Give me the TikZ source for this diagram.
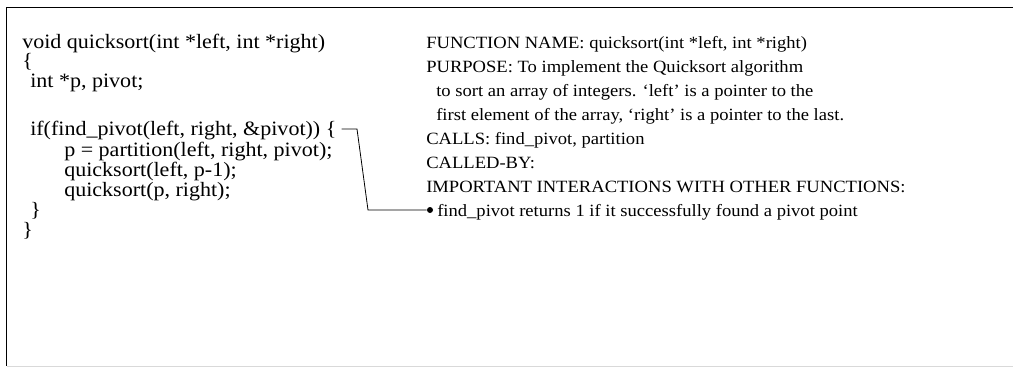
\documentclass[tikz,border=0pt]{standalone}
\usepackage{fontspec}
\setmainfont[FakeStretch=1.08]{Liberation Serif}
\usetikzlibrary{calc}
\tikzset{
  codeline/.style={anchor=base west, inner sep=0pt, font=\fontsize{15.3}{18}\selectfont},
  docline/.style={anchor=base west, inner sep=0pt, font=\fontsize{12.9}{16}\selectfont},
  frame/.style={line width=1.1pt, black},
  conn/.style={line width=0.6pt, black},
  bulletdot/.style={circle, fill=black, inner sep=0pt, minimum size=4.5}
}
\begin{document}
\begin{tikzpicture}[x=0.75pt,y=-0.75pt]
\useasboundingbox (0,0) rectangle (1013,368);
% panel border: top and left dark, bottom light
\draw[frame] (1013,7.5) -- (6.5,7.5) -- (6.5,366);
\draw[line width=0.8pt, black!15] (6.5,366.5) -- (1013,366.5);

% source code
\node[codeline] (c1) at (22,48)  {void quicksort(int *left, int *right)};
\node[codeline] (c2) at (22,67)  {\{};
\node[codeline] (c3) at (30,87)  {int *p, pivot;};
\node[codeline] (c4) at (30,135) {if(find\_pivot(left, right, \&pivot)) \{};
\node[codeline] (c5) at (64,156) {p = partition(left, right, pivot);};
\node[codeline] (c6) at (64,176) {quicksort(left, p-1);};
\node[codeline] (c7) at (64,196) {quicksort(p, right);};
\node[codeline] (c8) at (30,216) {\}};
\node[codeline] (c9) at (22,236) {\}};

% header comment block
\node[docline] (r1) at (426,48)  {FUNCTION NAME: quicksort(int *left, int *right)};
\node[docline] (r2) at (426,72)  {PURPOSE: To implement the Quicksort algorithm};
\node[docline] (r3) at (436,96)  {to sort an array of integers. ‘left’ is a pointer to the};
\node[docline] (r4) at (436,120) {first element of the array, ‘right’ is a pointer to the last.};
\node[docline] (r5) at (426,144) {CALLS: find\_pivot, partition};
\node[docline] (r6) at (426,168) {CALLED-BY:};
\node[docline] (r7) at (426,192) {IMPORTANT INTERACTIONS WITH OTHER FUNCTIONS:};
\node[docline] (r8) at (437,216) {find\_pivot returns 1 if it successfully found a pivot point};

% annotation connector
\node[bulletdot] (dot) at (430,210) {};
\coordinate (k1) at (357,129);
\coordinate (k2) at (368,210);
\draw[conn] ($(c4.base east)+(5,-6)$) -- (k1) -- (k2) -- (dot);
\end{tikzpicture}
\end{document}
